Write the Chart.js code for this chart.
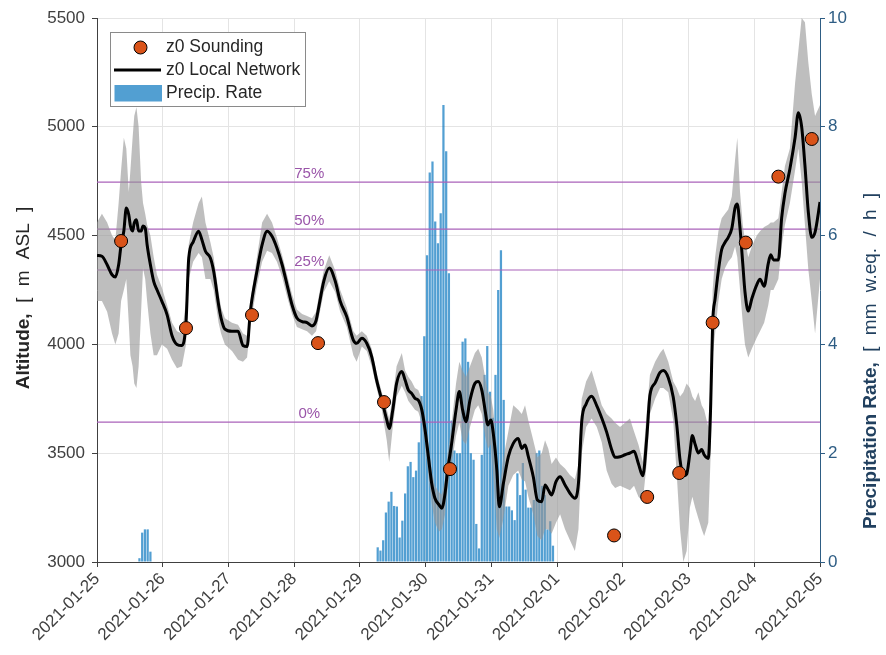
<!DOCTYPE html>
<html>
<head>
<meta charset="utf-8">
<script src="https://cdn.jsdelivr.net/npm/chart.js@4.4.0/dist/chart.umd.min.js"></script>
<style>
  html, body { margin: 0; padding: 0; background: #fff; }
  #wrap { width: 886px; height: 655px; }
</style>
</head>
<body>
<div id="wrap"><canvas id="altChart" width="886" height="655"></canvas></div>
<script>
/* axe des x : heures depuis 2021-01-25 00:00 */
const dayLabels = ["2021-01-25", "2021-01-26", "2021-01-27", "2021-01-28", "2021-01-29", "2021-01-30",
  "2021-01-31", "2021-02-01", "2021-02-02", "2021-02-03", "2021-02-04", "2021-02-05"];

/* radiosondages */
const soundingHours = [8.8, 32.5, 56.6, 80.7, 104.8, 128.9, 188.8, 200.9, 212.6, 224.8, 236.9, 248.8, 261.0];
const soundingAlt = [4475, 4075, 4135, 4006, 3735, 3427, 3122, 3299, 3409, 4100, 4468, 4771, 4944];

/* reseau local : mediane + enveloppe */
const networkHours = [0, 1.8, 3.7, 5.5, 6.7, 7.9, 8.8, 9.8, 10.7, 11.6, 12.2, 13.0, 13.6, 14.4, 15.2, 16.1, 16.8, 17.6, 18.3, 19.5,
  20.7, 21.9, 23.7, 25.6, 27.4, 29.2, 31.0, 32.5, 33.5, 35.1, 37.1, 38.3, 39.6, 41.4, 42.6, 44.4, 45.3, 46.7, 49.3, 51.5,
  53.3, 54.8, 56.0, 58.4, 60.3, 62.1, 63.9, 65.7, 67.6, 69.4, 71.2, 73.0, 74.9, 76.7, 78.5, 80.0, 81.1, 82.8, 84.8, 87.0,
  88.8, 91.2, 93.6, 94.8, 96.7, 98.5, 100.3, 102.1, 104.0, 105.8, 106.7, 108.0, 109.4, 111.3, 112.5, 113.7, 114.9, 116.1, 117.3, 118.6,
  119.8, 121.0, 122.2, 123.4, 124.9, 125.9, 127.1, 127.9, 129.5, 131.1, 132.3, 133.5, 134.7, 136.2, 138.0, 139.2, 140.5, 141.7, 142.7, 143.8,
  144.7, 146.0, 146.9, 148.4, 150.2, 152.0, 153.8, 155.1, 156.3, 157.5, 159.3, 160.8, 162.4, 163.6, 164.8, 166.0, 167.6, 169.1, 170.9, 172.7,
  174.5, 175.8, 177.0, 178.6, 180.6, 182.5, 184.3, 186.1, 187.9, 189.2, 191.0, 192.8, 194.6, 196.1, 197.7, 199.3, 200.7, 201.9, 203.8, 205.6,
  206.8, 208.6, 210.4, 211.7, 212.9, 214.1, 215.3, 216.5, 217.4, 218.4, 219.6, 220.8, 221.7, 223.2, 224.1, 224.8, 225.7, 226.9, 228.1, 229.3,
  230.5, 231.8, 233.0, 233.8, 234.8, 235.8, 236.6, 237.8, 239.1, 240.9, 242.1, 243.6, 245.1, 246.0, 247.0, 248.8, 250.0, 251.2, 253.0, 254.9,
  256.1, 257.3, 258.5, 259.7, 261.0, 262.2, 264.0];
const networkAlt = [4409, 4405, 4366, 4320, 4310, 4366, 4458, 4521, 4627, 4596, 4544, 4521, 4558, 4573, 4521, 4521, 4544, 4535, 4458, 4366,
  4290, 4251, 4198, 4136, 4040, 4000, 3995, 4100, 4397, 4470, 4520, 4481, 4428, 4397, 4336, 4182, 4121, 4070, 4060, 4060,
  3995, 3990, 4153, 4336, 4458, 4520, 4497, 4443, 4366, 4274, 4182, 4121, 4105, 4100, 4085, 4110, 4180, 4290, 4351, 4290,
  4199, 4127, 4020, 4005, 4028, 4005, 3944, 3836, 3744, 3653, 3614, 3699, 3821, 3875, 3836, 3790, 3775, 3752, 3744, 3699,
  3607, 3484, 3362, 3293, 3262, 3247, 3316, 3408, 3545, 3699, 3783, 3699, 3645, 3744, 3821, 3829, 3790, 3699, 3630, 3653,
  3591, 3423, 3254, 3362, 3484, 3545, 3568, 3522, 3538, 3484, 3392, 3285, 3277, 3354, 3331, 3308, 3369, 3392, 3354, 3316,
  3293, 3362, 3646, 3726, 3762, 3718, 3662, 3597, 3517, 3481, 3484, 3493, 3501, 3509, 3452, 3396, 3565, 3766, 3823, 3871,
  3880, 3847, 3758, 3630, 3469, 3396, 3404, 3501, 3581, 3541, 3501, 3517, 3493, 3476, 3726, 4097, 4210, 4339, 4436, 4468,
  4492, 4533, 4629, 4645, 4533, 4371, 4242, 4153, 4210, 4274, 4299, 4267, 4371, 4412, 4388, 4388, 4581, 4694, 4806, 4951,
  5065, 5000, 4823, 4613, 4492, 4516, 4654];
const networkMax = [4560, 4600, 4560, 4500, 4480, 4650, 4800, 4950, 4900, 4700, 4800, 4950, 5050, 5090, 5000, 4750, 4650, 4600, 4550, 4500,
  4400, 4320, 4260, 4180, 4100, 4060, 4050, 4200, 4460, 4560, 4650, 4680, 4560, 4470, 4400, 4240, 4170, 4120, 4100, 4090,
  4050, 4040, 4200, 4400, 4560, 4600, 4560, 4490, 4410, 4320, 4230, 4160, 4140, 4130, 4120, 4150, 4230, 4340, 4410, 4340,
  4250, 4170, 4060, 4040, 4060, 4040, 3980, 3870, 3780, 3700, 3660, 3760, 3900, 3960, 3880, 3850, 3830, 3800, 3790, 3750,
  3660, 3540, 3420, 3350, 3320, 3310, 3380, 3480, 3640, 3820, 3920, 3880, 3850, 3900, 3960, 3980, 3940, 3850, 3780, 3760,
  3700, 3520, 3330, 3480, 3600, 3720, 3700, 3680, 3720, 3650, 3560, 3480, 3500, 3560, 3520, 3450, 3480, 3450, 3430, 3400,
  3380, 3450, 3750, 3830, 3880, 3800, 3720, 3680, 3660, 3640, 3620, 3640, 3660, 3600, 3540, 3460, 3680, 3860, 3920, 3960,
  3980, 3920, 3830, 3800, 3760, 3780, 3820, 3800, 3760, 3740, 3780, 3720, 3700, 3620, 3850, 4250, 4400, 4520, 4580, 4600,
  4620, 4680, 4850, 4950, 4700, 4550, 4480, 4400, 4450, 4500, 4520, 4540, 4550, 4560, 4560, 4580, 4700, 4820, 4900, 5200,
  5350, 5500, 5480, 5300, 5150, 5050, 5100];
const networkMin = [4200, 4200, 4150, 4050, 4000, 4050, 4200, 4250, 4300, 4100, 3950, 3900, 3820, 3800, 3900, 4150, 4350, 4300, 4200, 4050,
  3950, 3950, 4000, 3980, 3930, 3890, 3900, 4000, 4300, 4380, 4420, 4400, 4300, 4300, 4250, 4100, 4050, 4000, 3970, 3930,
  3920, 3940, 4090, 4270, 4380, 4430, 4420, 4380, 4310, 4220, 4140, 4080, 4070, 4060, 4040, 4060, 4130, 4240, 4290, 4240,
  4150, 4080, 3950, 3920, 3990, 3970, 3900, 3800, 3700, 3560, 3460, 3620, 3760, 3810, 3780, 3740, 3720, 3700, 3690, 3640,
  3540, 3400, 3270, 3180, 3140, 3150, 3220, 3330, 3450, 3580, 3640, 3560, 3540, 3620, 3700, 3720, 3680, 3580, 3520, 3540,
  3400, 3150, 3110, 3200, 3350, 3400, 3420, 3380, 3370, 3300, 3220, 3120, 3100, 3150, 3150, 3130, 3180, 3220, 3150, 3100,
  3050, 3150, 3500, 3620, 3660, 3620, 3550, 3420, 3360, 3340, 3350, 3340, 3330, 3350, 3300, 3280, 3450, 3680, 3750, 3800,
  3800, 3780, 3650, 3400, 3150, 3000, 3050, 3250, 3300, 3250, 3200, 3150, 3120, 3180, 3500, 3950, 4050, 4200, 4300, 4350,
  4380, 4400, 4450, 4400, 4250, 4100, 4000, 3940, 3980, 4030, 4060, 4100, 4180, 4250, 4250, 4300, 4450, 4550, 4650, 4800,
  4900, 4750, 4550, 4350, 4200, 4050, 4300];

/* precipitations horaires (mm w.eq. / h), heure du centre de la premiere barre */
const precipStartA = 15.5;
const precipA = [0.07, 0.54, 0.6, 0.6, 0.19];
const precipStartB = 102.5;
const precipB = [0.27, 0.21, 0.40, 0.91, 1.11, 1.29, 1.03, 1.02, 0.45, 0.76, 1.26, 1.76, 1.84, 1.56, 1.68, 2.2, 3.05, 4.15, 5.64, 7.16,
  7.36, 6.26, 5.86, 6.41, 8.40, 7.55, 5.31, 2.6, 2.05, 2.0, 2.0, 4.05, 4.11, 3.68, 2.0, 1.88, 0.7, 0.25, 1.97, 3.44,
  3.97, 3.13, 2.65, 3.44, 5.0, 5.73, 2.98, 1.02, 1.02, 0.95, 0.77, 1.63, 1.23, 1.82, 1.33, 1.0, 1.0, 1.14, 2.0, 2.05,
  1.4, 1.23, 0.6, 0.75, 0.3];

/* quantiles */
const quantileAlt = [3643, 4342, 4530, 4746];
const quantileLabels = ["0%", "25%", "50%", "75%"];
const quantileLabelHour = 77.5;

const xy = (xs, ys) => xs.map((x, i) => ({ x: x, y: ys[i] }));
const hourly = (start, vals) => vals.map((v, i) => ({ x: start + i, y: v }));

const precipData = hourly(precipStartA, precipA).concat(hourly(precipStartB, precipB));

const quantileSets = quantileAlt.map((v, i) => ({
  type: "line",
  label: "q" + quantileLabels[i],
  data: [{ x: 0, y: v }, { x: 264, y: v }],
  borderColor: "#aa62ba",
  borderWidth: 1.2,
  pointRadius: 0,
  yAxisID: "y",
  order: 3,
}));

const FONT = "'Liberation Sans', Arial, sans-serif";

/* legende, titres d'axes et etiquettes des quantiles */
const decorations = {
  id: "decorations",
  afterDatasetsDraw(chart) {
    const ctx = chart.ctx;
    const xs = chart.scales.x, ys = chart.scales.y;
    ctx.save();
    ctx.font = "15px " + FONT;
    ctx.fillStyle = "#9a55a9";
    ctx.textAlign = "center";
    ctx.textBaseline = "bottom";
    quantileAlt.forEach((v, i) => {
      ctx.fillText(quantileLabels[i], xs.getPixelForValue(quantileLabelHour), ys.getPixelForValue(v) - 1);
    });
    ctx.restore();
  },
  afterDraw(chart) {
    const ctx = chart.ctx;
    ctx.save();
    // boite de legende
    ctx.fillStyle = "#fff";
    ctx.strokeStyle = "#8a8a8a";
    ctx.lineWidth = 1;
    ctx.fillRect(110.5, 32.5, 195, 74);
    ctx.strokeRect(110.5, 32.5, 195, 74);
    ctx.beginPath();
    ctx.arc(140.5, 47.5, 6.5, 0, Math.PI * 2);
    ctx.fillStyle = "#d95319";
    ctx.fill();
    ctx.strokeStyle = "#000";
    ctx.stroke();
    ctx.beginPath();
    ctx.moveTo(114, 70);
    ctx.lineTo(161, 70);
    ctx.lineWidth = 3;
    ctx.stroke();
    ctx.fillStyle = "rgba(0,114,189,0.68)";
    ctx.fillRect(114.5, 85, 47.5, 16.5);
    ctx.fillStyle = "#262626";
    ctx.font = "17.5px " + FONT;
    ctx.textAlign = "left";
    ctx.textBaseline = "middle";
    ctx.fillText("z0 Sounding", 166, 47.5);
    ctx.fillText("z0 Local Network", 166, 70);
    ctx.fillText("Precip. Rate", 166, 93);

    // titres d'axes (gras + normal)
    const axisTitle = (cx, cy, bold, normal, color) => {
      ctx.save();
      ctx.translate(cx, cy);
      ctx.rotate(-Math.PI / 2);
      ctx.fillStyle = color;
      ctx.textBaseline = "middle";
      ctx.textAlign = "left";
      ctx.wordSpacing = "0px";
      ctx.font = "bold 19px " + FONT;
      const wb = ctx.measureText(bold + "  ").width;
      ctx.wordSpacing = "6px";
      ctx.font = "19px " + FONT;
      const wn = ctx.measureText(normal).width;
      const x0 = -(wb + wn) / 2;
      ctx.wordSpacing = "0px";
      ctx.font = "bold 19px " + FONT;
      ctx.fillText(bold, x0, 0);
      ctx.wordSpacing = "6px";
      ctx.font = "19px " + FONT;
      ctx.fillText(normal, x0 + wb, 0);
      ctx.restore();
    };
    axisTitle(24, 298, "Altitude,", "[ m ASL ]", "#262626");
    axisTitle(871, 361, "Precipitation Rate,", "[ mm w.eq. / h ]", "#21405f");
    ctx.restore();
  },
};

const ctxAlt = document.getElementById("altChart");

new Chart(ctxAlt, {
  type: "line",
  data: {
    datasets: [
      {
        type: "line",
        label: "z0 Sounding",
        data: xy(soundingHours, soundingAlt),
        showLine: false,
        pointRadius: 6.5,
        pointBackgroundColor: "#d95319",
        pointBorderColor: "#000",
        pointBorderWidth: 1,
        yAxisID: "y",
        order: 0,
      },
      {
        type: "line",
        label: "z0 Local Network",
        data: xy(networkHours, networkAlt),
        borderColor: "#000",
        borderWidth: 3,
        pointRadius: 0,
        cubicInterpolationMode: "monotone",
        yAxisID: "y",
        order: 1,
      },
      {
        type: "line",
        label: "min",
        data: xy(networkHours, networkMin),
        borderWidth: 0,
        pointRadius: 0,
        yAxisID: "y",
        order: 2,
      },
      {
        type: "line",
        label: "max",
        data: xy(networkHours, networkMax),
        borderWidth: 0,
        pointRadius: 0,
        fill: "-1",
        backgroundColor: "rgba(150,150,150,0.62)",
        yAxisID: "y",
        order: 2,
      },
      ...quantileSets,
      {
        type: "bar",
        label: "Precip. Rate",
        data: precipData,
        backgroundColor: "rgba(0,114,189,0.68)",
        borderWidth: 0,
        categoryPercentage: 1,
        barPercentage: 0.82,
        yAxisID: "y1",
        order: 5,
      },
    ],
  },
  options: {
    responsive: false,
    animation: false,
    layout: { padding: { top: 18, left: 0, right: 0, bottom: 0 } },
    plugins: {
      legend: { display: false },
      tooltip: { enabled: false },
    },
    scales: {
      x: {
        type: "linear",
        min: 0,
        max: 264,
        offset: false,
        afterFit: (s) => { s.height = 93; },
        grid: { color: "#e4e4e4", tickColor: "#404040", tickLength: 5, offset: false },
        border: { color: "#404040" },
        ticks: {
          stepSize: 24,
          autoSkip: false,
          minRotation: 45,
          maxRotation: 45,
          padding: 2,
          color: "#404040",
          font: { family: FONT, size: 17 },
          callback: (v) => dayLabels[Math.round(v / 24)],
        },
      },
      y: {
        position: "left",
        min: 3000,
        max: 5500,
        afterFit: (s) => { s.width = 97; },
        grid: { color: "#e4e4e4", tickColor: "#404040", tickLength: 5 },
        border: { color: "#404040" },
        ticks: {
          stepSize: 500,
          padding: 7,
          color: "#404040",
          font: { family: FONT, size: 17 },
          callback: (v) => String(v),
        },
      },
      y1: {
        position: "right",
        min: 0,
        max: 10,
        afterFit: (s) => { s.width = 66; },
        grid: { drawOnChartArea: false, tickColor: "#2e5d84", tickLength: 5 },
        border: { color: "#2e5d84" },
        ticks: {
          stepSize: 2,
          padding: 3,
          color: "#2e5d84",
          font: { family: FONT, size: 17 },
        },
      },
    },
  },
  plugins: [decorations],
});
</script>
</body>
</html>
